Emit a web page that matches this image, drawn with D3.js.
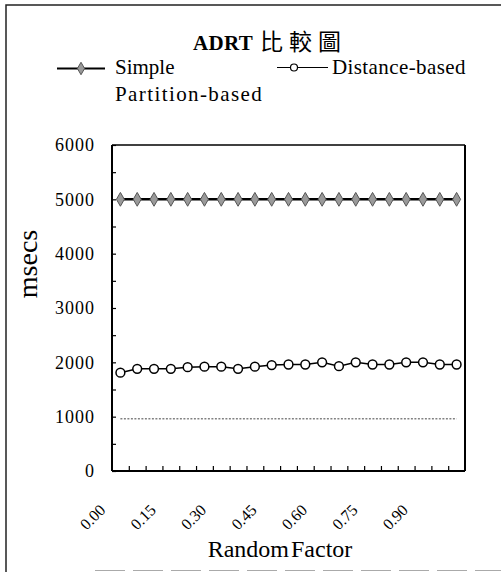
<!DOCTYPE html>
<html>
<head>
<meta charset="utf-8">
<script src="https://cdn.jsdelivr.net/npm/d3@7"></script>
<style>
  body { margin: 0; background: #fff; }
  svg { display: block; }
</style>
</head>
<body>
<svg id="chart" width="501" height="572"></svg>
<script>
// ADRT comparison chart: three series against the random factor
const factors = d3.range(21).map(i => (i * 0.05).toFixed(2));
const tickLabels = ['0.00', '0.15', '0.30', '0.45', '0.60', '0.75', '0.90'];
const yTicks = [0, 1000, 2000, 3000, 4000, 5000, 6000];

const simple = [5000, 5000, 5000, 5000, 5000, 5000, 5000, 5000, 5000, 5000, 5000,
  5000, 5000, 5000, 5000, 5000, 5000, 5000, 5000, 5000, 5000];
const distance = [1810, 1880, 1880, 1880, 1910, 1920, 1920, 1880, 1920, 1950, 1960,
  1960, 2000, 1930, 2000, 1960, 1960, 2000, 2000, 1960, 1960];
const partition = [960, 960, 960, 960, 960, 960, 960, 960, 960, 960, 960,
  960, 960, 960, 960, 960, 960, 960, 960, 960, 960];

const serif = '"Liberation Serif", "Times New Roman", serif';

const svg = d3.select('#chart');

// plot box
const margin = { top: 145, right: 36, bottom: 101, left: 112 };
const width = 501 - margin.left - margin.right;
const height = 572 - margin.top - margin.bottom;

// outer frame (scanned page border)
svg.append('path')
  .attr('d', 'M6,572 L6,5 L501,5')
  .attr('fill', 'none').attr('stroke', '#222').attr('stroke-width', 1.5);
svg.append('line')
  .attr('x1', 95).attr('x2', 501).attr('y1', 570.5).attr('y2', 570.5)
  .attr('stroke', '#aaa').attr('stroke-width', 1.2).attr('stroke-dasharray', '30,8');

// title
const title = svg.append('g');
title.append('text')
  .attr('x', 193).attr('y', 50)
  .style('font-family', serif)
  .attr('font-weight', 'bold').attr('font-size', 21).attr('letter-spacing', 0.3)
  .text('ADRT');
title.append('text')
  .attr('x', 260).attr('y', 50)
  .style('font-family', '"Noto Sans CJK TC", sans-serif')
  .attr('font-size', 23).attr('letter-spacing', 6)
  .text('比較圖');

// legend
const legend = svg.append('g');
legend.append('line').attr('x1', 57).attr('x2', 105).attr('y1', 68.5).attr('y2', 68.5)
  .attr('stroke', '#000').attr('stroke-width', 2);
legend.append('path')
  .attr('d', d3.symbol(d3.symbolDiamond, 45)())
  .attr('transform', 'translate(81,68.5)')
  .attr('fill', '#999').attr('stroke', '#555').attr('stroke-width', 1);
legend.append('text').attr('x', 115).attr('y', 74)
  .style('font-family', serif).attr('font-size', 21).text('Simple');

legend.append('line').attr('x1', 277).attr('x2', 328).attr('y1', 67.5).attr('y2', 67.5)
  .attr('stroke', '#000').attr('stroke-width', 1.2);
legend.append('circle').attr('cx', 294).attr('cy', 67.5).attr('r', 3.5)
  .attr('fill', '#fff').attr('stroke', '#000').attr('stroke-width', 1.2);
legend.append('text').attr('x', 332).attr('y', 74)
  .style('font-family', serif).attr('font-size', 21).attr('letter-spacing', 0.4)
  .text('Distance-based');

legend.append('text').attr('x', 115).attr('y', 101)
  .style('font-family', serif).attr('font-size', 21).attr('letter-spacing', 1.4)
  .text('Partition-based');

const g = svg.append('g')
  .attr('transform', `translate(${margin.left},${margin.top})`);

const x = d3.scaleBand().domain(factors).range([0, width]);
const y = d3.scaleLinear().domain([0, 6000]).range([height, 0]);
const cx = d => x(d) + x.bandwidth() / 2;

// inner ticks on the y-axis, every 500
g.append('g')
  .call(d3.axisRight(y).tickValues(d3.range(0, 6001, 500)).tickSize(4).tickFormat(''))
  .call(a => a.select('.domain').remove())
  .selectAll('line').attr('stroke', '#000').attr('stroke-width', 1.2);

// inner ticks on the x-axis, at band boundaries
g.append('g')
  .attr('transform', `translate(0,${height})`)
  .call(d3.axisTop(d3.scaleLinear().domain([0, factors.length]).range([0, width]))
    .tickValues(d3.range(1, factors.length)).tickSize(5).tickFormat(''))
  .call(a => a.select('.domain').remove())
  .selectAll('line').attr('stroke', '#000').attr('stroke-width', 1.2);

// plot box
g.append('line').attr('x1', 0).attr('x2', width).attr('y1', 0).attr('y2', 0)
  .attr('stroke', '#000').attr('stroke-width', 1.3);
g.append('line').attr('x1', width).attr('x2', width).attr('y1', 0).attr('y2', height)
  .attr('stroke', '#000').attr('stroke-width', 2);
g.append('line').attr('x1', 0).attr('x2', 0).attr('y1', 0).attr('y2', height)
  .attr('stroke', '#000').attr('stroke-width', 2);
g.append('line').attr('x1', 0).attr('x2', width).attr('y1', height).attr('y2', height)
  .attr('stroke', '#000').attr('stroke-width', 2);

// y tick labels
g.append('g')
  .call(d3.axisLeft(y).tickValues(yTicks).tickSize(0).tickPadding(17).tickFormat(d3.format('d')))
  .call(a => a.select('.domain').remove())
  .selectAll('text')
  .style('font-family', serif).attr('font-size', 18).attr('letter-spacing', 1)
  .attr('fill', '#000');

// x tick labels, rotated
g.append('g').selectAll('text')
  .data(tickLabels)
  .join('text')
  .attr('transform', d => `translate(${cx(d) - 14},${height + 40}) rotate(-45)`)
  .attr('text-anchor', 'end')
  .style('font-family', serif).attr('font-size', 16)
  .text(d => d);

// axis titles
svg.append('text')
  .attr('x', 280).attr('y', 557)
  .attr('text-anchor', 'middle')
  .style('font-family', serif).attr('font-size', 24).attr('word-spacing', -4)
  .text('Random Factor');
svg.append('text')
  .attr('transform', 'translate(37,264) rotate(-90)')
  .attr('text-anchor', 'middle')
  .style('font-family', serif).attr('font-size', 28)
  .text('msecs');

// series lines
const line = d3.line().x((d, i) => cx(factors[i])).y(d => y(d));

g.append('path').datum(partition)
  .attr('d', line)
  .attr('fill', 'none').attr('stroke', '#444').attr('stroke-width', 1)
  .attr('stroke-dasharray', '2,1.5');

g.append('path').datum(simple)
  .attr('d', line)
  .attr('fill', 'none').attr('stroke', '#000').attr('stroke-width', 2.5);
g.append('g').selectAll('path')
  .data(simple)
  .join('path')
  .attr('d', d3.symbol(d3.symbolDiamond, 55)())
  .attr('transform', (d, i) => `translate(${cx(factors[i])},${y(d)})`)
  .attr('fill', '#9a9a9a').attr('stroke', '#555').attr('stroke-width', 1);

g.append('path').datum(distance)
  .attr('d', line)
  .attr('fill', 'none').attr('stroke', '#000').attr('stroke-width', 1.5);
g.append('g').selectAll('circle')
  .data(distance)
  .join('circle')
  .attr('cx', (d, i) => cx(factors[i]))
  .attr('cy', d => y(d))
  .attr('r', 4.4)
  .attr('fill', '#fff').attr('stroke', '#000').attr('stroke-width', 1.5);
</script>
</body>
</html>
